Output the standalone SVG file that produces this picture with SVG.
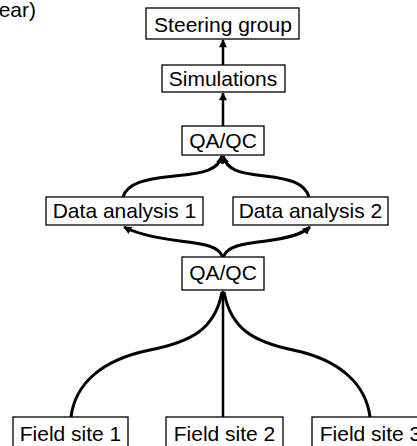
<svg xmlns="http://www.w3.org/2000/svg" width="417" height="446" viewBox="0 0 417 446">
<style>
rect.box{fill:#fff;stroke:#000;stroke-width:1.3}
text{font-family:"Liberation Sans",Arial,sans-serif;font-size:21px;fill:#000;text-anchor:middle}
.c{fill:none;stroke:#000;stroke-width:3}
.v{fill:none;stroke:#000;stroke-width:2.5}
</style>
<defs>
<marker id="ah" viewBox="0 0 10 10" refX="9" refY="5" markerWidth="9" markerHeight="8" markerUnits="userSpaceOnUse" orient="auto">
<path d="M0,0 L10,5 L0,10 z" fill="#000"/>
</marker>
</defs>
<text x="36" y="17" style="text-anchor:end">ear)</text>
<g id="connectors">
<path class="v" d="M223,65 L223,40" marker-end="url(#ah)"/>
<path class="v" d="M223,126 L223,93" marker-end="url(#ah)"/>
<path class="c" d="M123,197 C127,183 145,179 175,176 C205,173 218,170 222,156" marker-end="url(#ah)"/>
<path class="c" d="M309,197 C305,183 290,179 265,176 C238,173 227,170 223,156" marker-end="url(#ah)"/>
<path class="c" d="M223,257 C218,246 205,244 180,241 C150,237 135,233 124,227" marker-end="url(#ah)"/>
<path class="c" d="M223,257 C228,246 241,244 266,241 C290,238 302,234 310,227" marker-end="url(#ah)"/>
<path class="c" d="M71,417 C75,385 100,360 150,350 C190,342 215,330 222,292"/>
<path class="c" d="M370,417 C366,385 341,360 293,350 C255,342 231,330 224,292"/>
<path class="v" d="M223,417 L223,291" marker-end="url(#ah)"/>
</g>
<g id="steering"><rect class="box" x="146" y="8" width="153" height="31"/><text x="223" y="32">Steering group</text></g>
<g id="simulations"><rect class="box" x="162" y="65" width="123" height="27"/><text x="223" y="86">Simulations</text></g>
<g id="qaqc1"><rect class="box" x="182" y="126" width="82" height="29"/><text x="223" y="148">QA/QC</text></g>
<g id="da1"><rect class="box" x="46" y="197" width="157" height="28"/><text x="124.5" y="218">Data analysis 1</text></g>
<g id="da2"><rect class="box" x="233" y="197" width="155" height="28"/><text x="310.5" y="218">Data analysis 2</text></g>
<g id="qaqc2"><rect class="box" x="182" y="257" width="82" height="33"/><text x="223" y="280">QA/QC</text></g>
<g id="fs1"><rect class="box" x="13" y="417" width="115" height="40"/><text x="70.5" y="441">Field site 1</text></g>
<g id="fs2"><rect class="box" x="166" y="417" width="117" height="40"/><text x="224.5" y="441">Field site 2</text></g>
<g id="fs3"><rect class="box" x="312" y="417" width="117" height="40"/><text x="370.5" y="441">Field site 3</text></g>
</svg>
